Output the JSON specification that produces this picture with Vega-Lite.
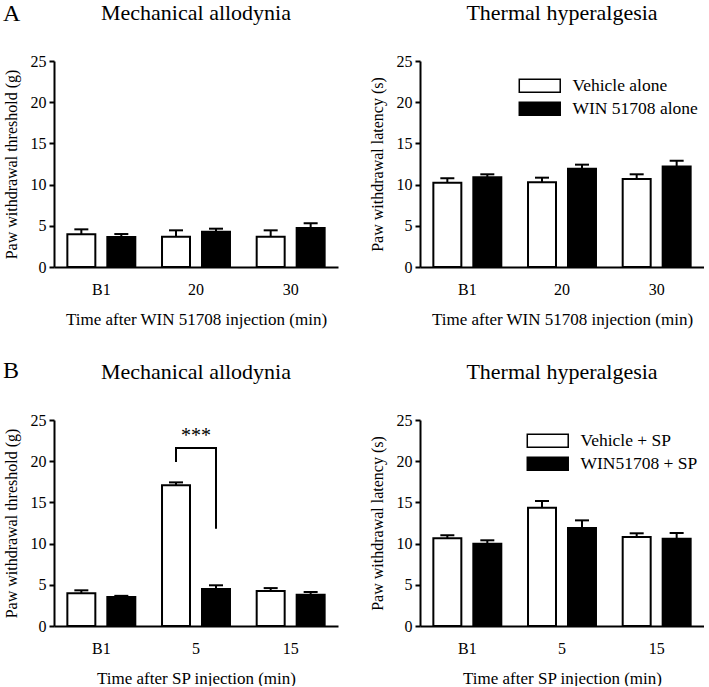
{
  "$schema": "https://vega.github.io/schema/vega-lite/v6.json",
  "autosize": {"type": "pad"},
  "padding": {"left": 3, "top": 2, "right": 0, "bottom": 0},
  "background": "white",
  "datasets": {
    "bars": [
      {"panel": "A1", "time": "B1", "grp": "V", "lab": "V", "value": 3.96, "hi": 4.57},
      {"panel": "A1", "time": "B1", "grp": "W", "lab": "W", "value": 3.64, "hi": 4.0},
      {"panel": "A1", "time": "20", "grp": "V", "lab": "V", "value": 3.68, "hi": 4.45},
      {"panel": "A1", "time": "20", "grp": "W", "lab": "W", "value": 4.29, "hi": 4.65},
      {"panel": "A1", "time": "30", "grp": "V", "lab": "V", "value": 3.68, "hi": 4.45},
      {"panel": "A1", "time": "30", "grp": "W", "lab": "W", "value": 4.73, "hi": 5.3},
      {"panel": "A2", "time": "B1", "grp": "V", "lab": "Vehicle alone", "value": 10.23, "hi": 10.76},
      {"panel": "A2", "time": "B1", "grp": "W", "lab": "WIN 51708 alone", "value": 10.88, "hi": 11.25},
      {"panel": "A2", "time": "20", "grp": "V", "lab": "Vehicle alone", "value": 10.3, "hi": 10.84},
      {"panel": "A2", "time": "20", "grp": "W", "lab": "WIN 51708 alone", "value": 11.93, "hi": 12.42},
      {"panel": "A2", "time": "30", "grp": "V", "lab": "Vehicle alone", "value": 10.68, "hi": 11.25},
      {"panel": "A2", "time": "30", "grp": "W", "lab": "WIN 51708 alone", "value": 12.2, "hi": 12.9},
      {"panel": "B1", "time": "B1", "grp": "V", "lab": "V", "value": 3.96, "hi": 4.33},
      {"panel": "B1", "time": "B1", "grp": "W", "lab": "W", "value": 3.52, "hi": 3.66},
      {"panel": "B1", "time": "5", "grp": "V", "lab": "V", "value": 17.07, "hi": 17.43},
      {"panel": "B1", "time": "5", "grp": "W", "lab": "W", "value": 4.49, "hi": 4.94},
      {"panel": "B1", "time": "15", "grp": "V", "lab": "V", "value": 4.25, "hi": 4.6},
      {"panel": "B1", "time": "15", "grp": "W", "lab": "W", "value": 3.8, "hi": 4.13},
      {"panel": "B2", "time": "B1", "grp": "V", "lab": "Vehicle + SP", "value": 10.64, "hi": 11.0},
      {"panel": "B2", "time": "B1", "grp": "W", "lab": "WIN51708 + SP", "value": 9.99, "hi": 10.4},
      {"panel": "B2", "time": "5", "grp": "V", "lab": "Vehicle + SP", "value": 14.36, "hi": 15.17},
      {"panel": "B2", "time": "5", "grp": "W", "lab": "WIN51708 + SP", "value": 11.89, "hi": 12.82},
      {"panel": "B2", "time": "15", "grp": "V", "lab": "Vehicle + SP", "value": 10.8, "hi": 11.25},
      {"panel": "B2", "time": "15", "grp": "W", "lab": "WIN51708 + SP", "value": 10.6, "hi": 11.29}
    ],
    "sigLegs": [
      {"time": "5", "grp": "V", "lo": 19.9, "hi": 21.6},
      {"time": "5", "grp": "W", "lo": 11.8, "hi": 21.6}
    ],
    "sigTop": [
      {"time": "5", "y": 21.6, "y2": 22.3, "label": "***"}
    ]
  },
  "config": {
    "font": "Liberation Serif",
    "view": {"stroke": null},
    "axis": {
      "grid": false,
      "domainColor": "black",
      "domainWidth": 2,
      "tickColor": "black",
      "tickWidth": 2,
      "labelColor": "black",
      "titleColor": "black",
      "labelFont": "Liberation Serif",
      "titleFont": "Liberation Serif",
      "titleFontWeight": "normal",
      "labelFontSize": 16,
      "titleFontSize": 16
    },
    "axisY": {"values": [0, 5, 10, 15, 20, 25], "tickSize": 5, "labelPadding": 3, "titlePadding": 11},
    "axisX": {"ticks": false, "labelAngle": 0, "labelPadding": 14, "titlePadding": 14, "titleFontSize": 17},
    "title": {"font": "Liberation Serif", "fontSize": 22, "fontWeight": "normal", "color": "black", "anchor": "middle", "frame": "group", "offset": 28, "baseline": "alphabetic"},
    "legend": {
      "orient": "none",
      "title": null,
      "padding": 0,
      "symbolType": "M-3.15,-1H3.15V1H-3.15Z",
      "symbolSize": 169,
      "symbolStrokeColor": "black",
      "symbolStrokeWidth": 1.5,
      "labelFont": "Liberation Serif",
      "labelFontSize": 17.5,
      "labelColor": "black",
      "labelOffset": 24,
      "labelLimit": 400,
      "rowPadding": 3
    }
  },
  "spacing": 32,
  "resolve": {"scale": {"fill": "independent", "x": "independent", "y": "independent"}, "legend": {"fill": "independent"}},
  "vconcat": [
    {
      "title": {"text": "A", "anchor": "start", "frame": "bounds", "orient": "top", "offset": -43, "fontSize": 24, "baseline": "alphabetic"},
      "spacing": 82,
      "bounds": "flush",
      "resolve": {"scale": {"fill": "independent", "x": "independent", "y": "independent"}, "legend": {"fill": "independent"}},
      "hconcat": [
        {
          "width": 284, "height": 206,
          "title": "Mechanical allodynia",
          "data": {"name": "bars"},
          "transform": [{"filter": "datum.panel === 'A1'"}],
          "encoding": {
            "x": {"field": "time", "type": "nominal", "sort": ["B1", "20", "30"], "scale": {"paddingInner": 0, "paddingOuter": 0}, "title": "Time after WIN 51708 injection (min)"},
            "xOffset": {"field": "grp", "type": "nominal", "scale": {"domain": ["V", "W"], "paddingInner": 0.3, "paddingOuter": 0.334}}
          },
          "layer": [
            {"mark": {"type": "bar", "stroke": "black", "strokeWidth": 2},
             "encoding": {
               "y": {"field": "value", "type": "quantitative", "scale": {"domain": [0, 25], "nice": false}, "title": "Paw withdrawal threshold (g)"},
               "fill": {"field": "grp", "type": "nominal", "scale": {"domain": ["V", "W"], "range": ["white", "black"]}, "legend": null}
             }},
            {"mark": {"type": "rule", "strokeWidth": 2, "color": "black"},
             "encoding": {"y": {"field": "value", "type": "quantitative", "title": "Paw withdrawal threshold (g)"}, "y2": {"field": "hi"}}},
            {"mark": {"type": "tick", "thickness": 2, "size": 14, "color": "black", "opacity": 1},
             "encoding": {"y": {"field": "hi", "type": "quantitative", "title": "Paw withdrawal threshold (g)"}}}
          ]
        },
        {
          "width": 284, "height": 206,
          "title": "Thermal hyperalgesia",
          "data": {"name": "bars"},
          "transform": [{"filter": "datum.panel === 'A2'"}],
          "encoding": {
            "x": {"field": "time", "type": "nominal", "sort": ["B1", "20", "30"], "scale": {"paddingInner": 0, "paddingOuter": 0}, "title": "Time after WIN 51708 injection (min)"},
            "xOffset": {"field": "grp", "type": "nominal", "scale": {"domain": ["V", "W"], "paddingInner": 0.3, "paddingOuter": 0.334}}
          },
          "layer": [
            {"mark": {"type": "bar", "stroke": "black", "strokeWidth": 2},
             "encoding": {
               "y": {"field": "value", "type": "quantitative", "scale": {"domain": [0, 25], "nice": false}, "title": "Paw withdrawal latency (s)"},
               "fill": {"field": "lab", "type": "nominal", "scale": {"domain": ["Vehicle alone", "WIN 51708 alone"], "range": ["white", "black"]}, "legend": {"legendX": 111, "legendY": 16}}
             }},
            {"mark": {"type": "rule", "strokeWidth": 2, "color": "black"},
             "encoding": {"y": {"field": "value", "type": "quantitative", "title": "Paw withdrawal latency (s)"}, "y2": {"field": "hi"}}},
            {"mark": {"type": "tick", "thickness": 2, "size": 14, "color": "black", "opacity": 1},
             "encoding": {"y": {"field": "hi", "type": "quantitative", "title": "Paw withdrawal latency (s)"}}}
          ]
        }
      ]
    },
    {
      "title": {"text": "B", "anchor": "start", "frame": "bounds", "orient": "top", "offset": -41, "fontSize": 24, "baseline": "alphabetic"},
      "spacing": 82,
      "bounds": "flush",
      "resolve": {"scale": {"fill": "independent", "x": "independent", "y": "independent"}, "legend": {"fill": "independent"}},
      "hconcat": [
        {
          "width": 284, "height": 206,
          "title": "Mechanical allodynia",
          "encoding": {
            "x": {"field": "time", "type": "nominal", "sort": ["B1", "5", "15"], "scale": {"paddingInner": 0, "paddingOuter": 0}, "title": "Time after SP injection (min)"}
          },
          "layer": [
            {"data": {"name": "bars"},
             "transform": [{"filter": "datum.panel === 'B1'"}],
             "mark": {"type": "bar", "stroke": "black", "strokeWidth": 2},
             "encoding": {
               "xOffset": {"field": "grp", "type": "nominal", "scale": {"domain": ["V", "W"], "paddingInner": 0.3, "paddingOuter": 0.334}},
               "y": {"field": "value", "type": "quantitative", "scale": {"domain": [0, 25], "nice": false}, "title": "Paw withdrawal threshold (g)"},
               "fill": {"field": "grp", "type": "nominal", "scale": {"domain": ["V", "W"], "range": ["white", "black"]}, "legend": null}
             }},
            {"data": {"name": "bars"},
             "transform": [{"filter": "datum.panel === 'B1'"}],
             "mark": {"type": "rule", "strokeWidth": 2, "color": "black"},
             "encoding": {
               "xOffset": {"field": "grp", "type": "nominal"},
               "y": {"field": "value", "type": "quantitative", "title": "Paw withdrawal threshold (g)"}, "y2": {"field": "hi"}}},
            {"data": {"name": "bars"},
             "transform": [{"filter": "datum.panel === 'B1'"}],
             "mark": {"type": "tick", "thickness": 2, "size": 14, "color": "black", "opacity": 1},
             "encoding": {
               "xOffset": {"field": "grp", "type": "nominal"},
               "y": {"field": "hi", "type": "quantitative", "title": "Paw withdrawal threshold (g)"}}},
            {"data": {"name": "sigLegs"},
             "mark": {"type": "rule", "strokeWidth": 2, "color": "black"},
             "encoding": {
               "xOffset": {"field": "grp", "type": "nominal"},
               "y": {"field": "lo", "type": "quantitative", "title": "Paw withdrawal threshold (g)"}, "y2": {"field": "hi"}}},
            {"data": {"name": "sigTop"},
             "mark": {"type": "tick", "thickness": 2, "size": 42, "color": "black", "opacity": 1},
             "encoding": {
               "y": {"field": "y", "type": "quantitative", "title": "Paw withdrawal threshold (g)"}}},
            {"data": {"name": "sigTop"},
             "mark": {"type": "text", "fontSize": 20, "font": "Liberation Serif", "baseline": "alphabetic", "color": "black"},
             "encoding": {
               "y": {"field": "y2", "type": "quantitative", "title": "Paw withdrawal threshold (g)"},
               "text": {"field": "label"}}}
          ]
        },
        {
          "width": 284, "height": 206,
          "title": "Thermal hyperalgesia",
          "data": {"name": "bars"},
          "transform": [{"filter": "datum.panel === 'B2'"}],
          "encoding": {
            "x": {"field": "time", "type": "nominal", "sort": ["B1", "5", "15"], "scale": {"paddingInner": 0, "paddingOuter": 0}, "title": "Time after SP injection (min)"},
            "xOffset": {"field": "grp", "type": "nominal", "scale": {"domain": ["V", "W"], "paddingInner": 0.3, "paddingOuter": 0.334}}
          },
          "layer": [
            {"mark": {"type": "bar", "stroke": "black", "strokeWidth": 2},
             "encoding": {
               "y": {"field": "value", "type": "quantitative", "scale": {"domain": [0, 25], "nice": false}, "title": "Paw withdrawal latency (s)"},
               "fill": {"field": "lab", "type": "nominal", "scale": {"domain": ["Vehicle + SP", "WIN51708 + SP"], "range": ["white", "black"]}, "legend": {"legendX": 119, "legendY": 12}}
             }},
            {"mark": {"type": "rule", "strokeWidth": 2, "color": "black"},
             "encoding": {"y": {"field": "value", "type": "quantitative", "title": "Paw withdrawal latency (s)"}, "y2": {"field": "hi"}}},
            {"mark": {"type": "tick", "thickness": 2, "size": 14, "color": "black", "opacity": 1},
             "encoding": {"y": {"field": "hi", "type": "quantitative", "title": "Paw withdrawal latency (s)"}}}
          ]
        }
      ]
    }
  ]
}
